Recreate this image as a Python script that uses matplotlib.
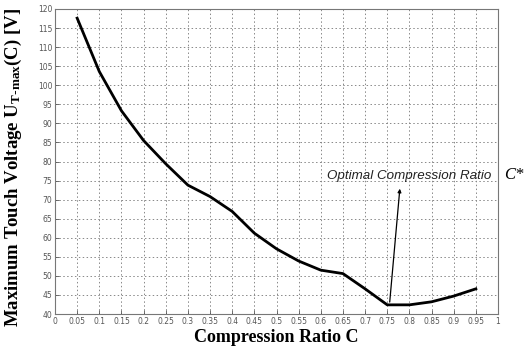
import matplotlib
matplotlib.use("Agg")
import matplotlib.pyplot as plt
import numpy as np

ratio = [0.05, 0.10, 0.15, 0.20, 0.25, 0.30, 0.35, 0.40, 0.45, 0.50,
         0.55, 0.60, 0.65, 0.70, 0.75, 0.80, 0.85, 0.90, 0.95]
voltage = [117.6, 103.6, 93.3, 85.5, 79.4, 73.8, 70.8, 66.9, 61.2, 57.1,
           53.9, 51.5, 50.6, 46.6, 42.4, 42.4, 43.2, 44.7, 46.6]
x_ticks = [round(0.05 * i, 2) for i in range(21)]
x_ticklabels = ["0", "0.05", "0.1", "0.15", "0.2", "0.25", "0.3", "0.35", "0.4", "0.45",
                "0.5", "0.55", "0.6", "0.65", "0.7", "0.75", "0.8", "0.85", "0.9", "0.95", "1"]
y_ticks = list(range(40, 121, 5))

plt.rcParams['mathtext.default'] = 'regular'
fig = plt.figure(figsize=(5.26, 3.51), dpi=100)
ax = fig.add_axes([55/526, 1 - 314/351, (498-55)/526, (314-9)/351])

ax.plot(ratio, voltage, color='black', lw=2.0)
ax.set_xlim(0, 1)
ax.set_ylim(40, 120)
ax.set_xticks(x_ticks)
ax.set_xticklabels(x_ticklabels)
ax.set_yticks(y_ticks)
ax.tick_params(direction='in', length=3, labelsize=5.5, colors='#555555', width=0.6, pad=2)
ax.grid(True, linestyle=(0, (1.5, 2.5)), color='#888888', lw=0.7)
for s in ax.spines.values():
    s.set_color('#777777')
    s.set_linewidth(0.8)

ax.annotate('', xy=(0.779, 73.6), xytext=(0.755, 42.4),
            arrowprops=dict(arrowstyle='-|>', color='black', lw=0.9, mutation_scale=5))
ax.text(0.80, 76.2, 'Optimal Compression Ratio', fontsize=9.6, style='italic',
        family='Liberation Sans', ha='center', va='center', color='#222222')
fig.text(504/526, 1 - 175/351, 'C*', fontsize=12, style='italic', family='Liberation Serif',
         ha='left', va='center')

ax.set_xlabel('Compression Ratio C', fontsize=13, fontweight='bold', family='Liberation Serif', labelpad=2)
ax.set_ylabel('Maximum Touch Voltage U$_{T\\text{-}max}$(C) [V]', fontsize=13.5, fontweight='bold',
              family='Liberation Serif')
ax.yaxis.set_label_coords(-0.07, 0.48)

fig.savefig('out.png', dpi=100)
